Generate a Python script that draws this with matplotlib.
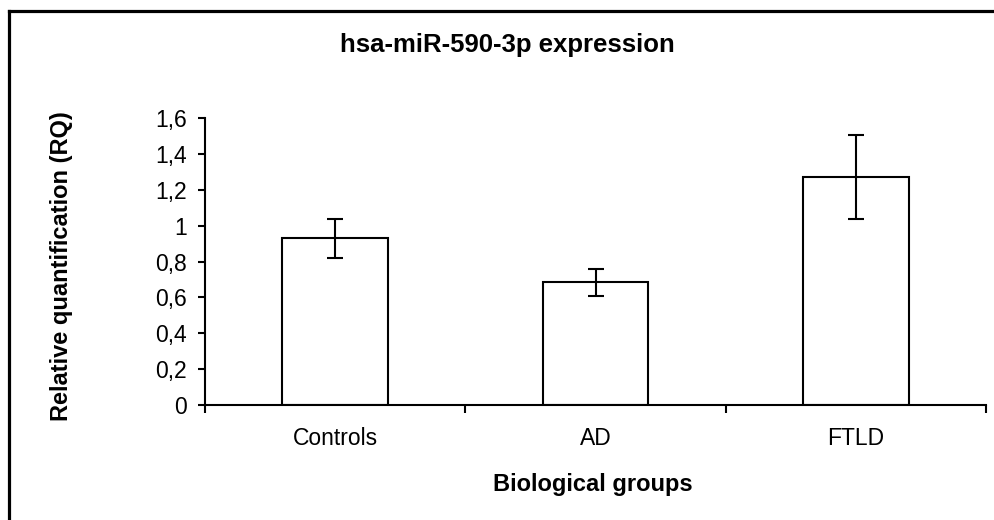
import matplotlib
matplotlib.use("Agg")
import matplotlib.pyplot as plt
from matplotlib.ticker import FuncFormatter, FixedLocator
from matplotlib.lines import Line2D

# values
groups = ["Controls", "AD", "FTLD"]
rq = [0.933, 0.688, 1.272]
err_low = [0.115, 0.080, 0.235]
err_high = [0.104, 0.070, 0.234]
yticks = [0, 0.2, 0.4, 0.6, 0.8, 1.0, 1.2, 1.4, 1.6]

plt.rcParams['font.family'] = ['Liberation Sans', 'DejaVu Sans']

W, H = 994, 520
fig = plt.figure(figsize=(W / 100, H / 100), dpi=100)

# outer frame (only top and left edges visible in the reference)
fig.add_artist(Line2D([8.5 / W, 8.5 / W], [0, 1 - 11 / H], transform=fig.transFigure,
                      color='black', lw=2.3, solid_capstyle='projecting'))
fig.add_artist(Line2D([8.5 / W, 1], [1 - 11 / H, 1 - 11 / H], transform=fig.transFigure,
                      color='black', lw=2.3, solid_capstyle='projecting'))

ax = fig.add_axes([205 / W, 1 - 405 / H, 781 / W, 287 / H])

x = range(len(groups))
ax.bar(x, rq, width=0.405, color='white', edgecolor='black', linewidth=1.5, zorder=2)
ax.errorbar(x, rq, yerr=[err_low, err_high], fmt='none', ecolor='black',
            elinewidth=1.5, capsize=6, capthick=1.5, zorder=3)

ax.set_xlim(-0.5, 2.5)
ax.set_ylim(0, 1.6)

for s in ['top', 'right']:
    ax.spines[s].set_visible(False)
for s in ['left', 'bottom']:
    ax.spines[s].set_linewidth(1.5)

ax.set_yticks(yticks)
ax.yaxis.set_major_formatter(FuncFormatter(lambda v, p: f"{v:g}".replace('.', ',')))
ax.tick_params(axis='y', direction='out', length=5, width=1.5, labelsize=16.5, pad=8)

# x ticks sit on group boundaries, labels at group centres
ax.xaxis.set_major_locator(FixedLocator([-0.5, 0.5, 1.5, 2.5]))
ax.xaxis.set_major_formatter(FuncFormatter(lambda v, p: ""))
ax.xaxis.set_minor_locator(FixedLocator(list(x)))
ax.set_xticklabels(groups, minor=True)
ax.tick_params(axis='x', which='major', direction='out', length=6, width=1.5)
ax.tick_params(axis='x', which='minor', length=0, labelsize=16.5, pad=16)

fig.text(62 / W, 1 - 266 / H, "Relative quantification (RQ)", rotation=90,
         ha='center', va='center', fontsize=17, fontweight='bold')
fig.text(593 / W, 1 - 485 / H, "Biological groups", ha='center', va='center',
         fontsize=17, fontweight='bold')
fig.text(507 / W, 1 - 45 / H, "hsa-miR-590-3p expression", ha='center', va='center',
         fontsize=18.5, fontweight='bold')

fig.savefig("out.png", dpi=100)
